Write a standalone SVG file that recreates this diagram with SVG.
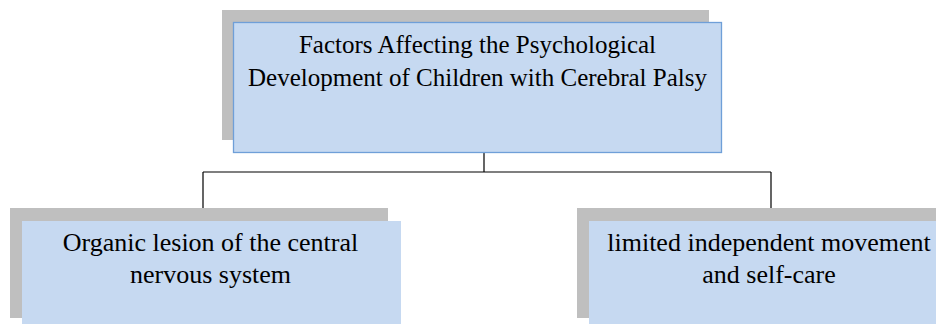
<svg xmlns="http://www.w3.org/2000/svg" width="936" height="324" viewBox="0 0 936 324">
<style>
.shadow{fill:#bfbfbf;}
.box{fill:#c6d9f1;}
.top{stroke:#6f9fd8;stroke-width:1.3;}
.conn{fill:none;stroke:#000;stroke-width:1.2;}
.t{font-family:'Liberation Serif', 'DejaVu Serif', serif;font-size:25px;fill:#000;text-anchor:middle;}
.b{font-size:26px;}
</style>
<rect width="936" height="324" fill="#fff"/>
<g id="connectors">
<path class="conn" d="M484,153 V172 M203,172 H771 M203,172 V208 M771,172 V208"/>
</g>
<g id="node-top">
<rect class="shadow" x="222" y="10" width="487" height="130"/>
<rect class="box top" x="233.5" y="22.5" width="488" height="130"/>
<text class="t" x="477.5" y="53">Factors Affecting the Psychological</text>
<text class="t" x="477.5" y="86">Development of Children with Cerebral Palsy</text>
</g>
<g id="node-left">
<rect class="shadow" x="10" y="208" width="378" height="110"/>
<rect class="box" x="22" y="221" width="379" height="110"/>
<text class="t b" x="210.5" y="251">Organic lesion of the central</text>
<text class="t b" x="210.5" y="283">nervous system</text>
</g>
<g id="node-right">
<rect class="shadow" x="577" y="208" width="370" height="110"/>
<rect class="box" x="589" y="221" width="360" height="110"/>
<text class="t b" x="769" y="251">limited independent movement</text>
<text class="t b" x="769" y="283">and self-care</text>
</g>
</svg>
